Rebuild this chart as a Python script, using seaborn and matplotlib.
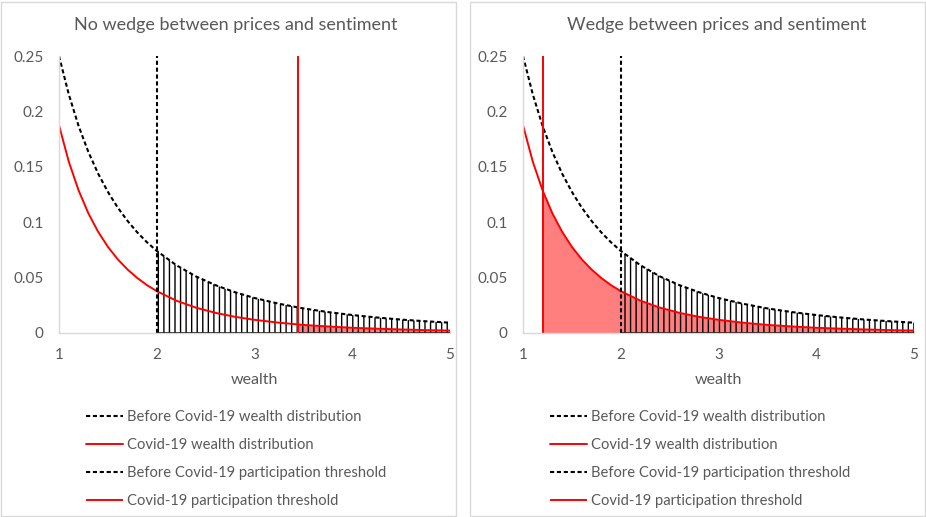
import numpy as np
import matplotlib
matplotlib.use('Agg')
import matplotlib.pyplot as plt
from matplotlib.patches import Rectangle
from matplotlib.ticker import FuncFormatter
import seaborn as sns

# wealth grid and densities
wealth = [1.0, 1.1, 1.2, 1.3, 1.4, 1.5, 1.6, 1.7, 1.8, 1.9, 2.0, 2.2, 2.4, 2.6, 2.8,
          3.0, 3.25, 3.45, 3.5, 3.75, 4.0, 4.25, 4.5, 4.75, 5.0]
before_covid = [0.25, 0.2154, 0.1870, 0.1635, 0.1439, 0.1274, 0.1133, 0.1013, 0.0909, 0.0819,
                0.0741, 0.0612, 0.0511, 0.0432, 0.0368, 0.0316, 0.0264, 0.0230, 0.0222,
                0.0189, 0.0162, 0.0140, 0.0121, 0.0106, 0.0093]
covid = [0.1875, 0.1547, 0.1288, 0.1081, 0.0914, 0.0778, 0.0666, 0.0574, 0.0497, 0.0432,
         0.0378, 0.0292, 0.0229, 0.0182, 0.0146, 0.0119, 0.0093, 0.0077, 0.0073,
         0.0059, 0.0047, 0.0039, 0.0032, 0.0026, 0.0022]

titles = ['No wedge between prices and sentiment', 'Wedge between prices and sentiment']
before_threshold = [2.0, 2.0]
covid_threshold = [3.45, 1.2]
y_ticks = [0, 0.05, 0.1, 0.15, 0.2, 0.25]
x_ticks = [1, 2, 3, 4, 5]

sns.set_theme(style='white')
plt.rcParams['font.family'] = ['Lato', 'DejaVu Sans']
plt.rcParams['hatch.linewidth'] = 1.0

grey = '#595959'
x = np.array(wealth)
yb = np.array(before_covid)
yc = np.array(covid)

fig = plt.figure(figsize=(9.26, 5.17), dpi=100)

# panel frames
for left in [1, 470]:
    fig.patches.append(Rectangle((left / 926, 1 / 517), 455 / 926, 514 / 517,
                                 transform=fig.transFigure, fill=False,
                                 edgecolor='#D9D9D9', lw=1.0))

title_x = [236, 717]

for i, left_px in enumerate([59, 523]):
    ax = fig.add_axes([left_px / 926, (517 - 333) / 517, 391 / 926, 277 / 517])

    # red area under covid distribution beyond the covid threshold
    m = x >= covid_threshold[i]
    ax.fill_between(x[m], 0, yc[m], color='#FF0000', alpha=0.5, lw=0)

    # hatched area under before-covid distribution beyond before threshold
    mb = x >= before_threshold[i]
    ax.fill_between(x[mb], 0, yb[mb], facecolor='none', edgecolor='black',
                    hatch='|||', lw=0)
    ax.hlines(0, before_threshold[i], x.max(), color='black', lw=1.2)

    sns.lineplot(x=wealth, y=before_covid, ax=ax, color='black', lw=1.5,
                 linestyle=(0, (2.0, 1.3)), label='Before Covid-19 wealth distribution')
    sns.lineplot(x=wealth, y=covid, ax=ax, color='#FF0000', lw=1.4,
                 label='Covid-19 wealth distribution')
    ax.vlines(before_threshold[i], 0, max(y_ticks), color='black', lw=1.5,
              linestyle=(0, (2.0, 1.3)), label='Before Covid-19 participation threshold')
    ax.vlines(covid_threshold[i], 0, max(y_ticks), color='#FF0000', lw=1.4,
              label='Covid-19 participation threshold')

    ax.set_xlim(1, 5)
    ax.set_ylim(0, 0.25)
    ax.set_xticks(x_ticks)
    ax.set_yticks(y_ticks)
    ax.yaxis.set_major_formatter(FuncFormatter(lambda v, p: '%g' % v))
    ax.tick_params(axis='y', length=0, labelsize=11, labelcolor=grey, pad=11)
    ax.tick_params(axis='x', length=0, labelsize=11, labelcolor=grey, pad=11)
    ax.set_xlabel('wealth', fontsize=11.5, color=grey, labelpad=7.5)
    ax.set_ylabel('')
    for s in ['top', 'right']:
        ax.spines[s].set_visible(False)
    for s in ['left', 'bottom']:
        ax.spines[s].set_color('#D9D9D9')
        ax.spines[s].set_linewidth(1.0)
    ax.set_facecolor('none')

    fig.text(title_x[i] / 926, 1 - 25 / 517, titles[i], ha='center',
             va='center', fontsize=13, color=grey)

    leg = ax.legend(loc='upper left', bbox_to_anchor=((left_px + 27) / 926, 1 - 410 / 517),
                    bbox_transform=fig.transFigure, frameon=False, fontsize=10.6,
                    handlelength=2.5, handletextpad=0.3, labelspacing=0.95,
                    borderpad=0, borderaxespad=0)
    for t in leg.get_texts():
        t.set_color(grey)

fig.savefig('out.png', dpi=100)
